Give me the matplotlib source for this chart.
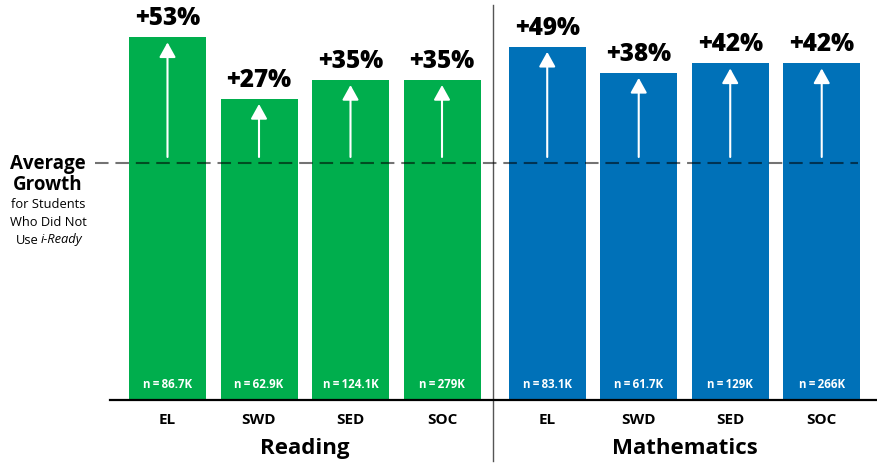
import matplotlib.pyplot as plt

plt.rcParams['font.family'] = ['Open Sans', 'DejaVu Sans']

# data
subjects = ["Reading", "Mathematics"]
groups = ["EL", "SWD", "SED", "SOC"]
reading_growth = [53, 27, 35, 35]
math_growth = [49, 38, 42, 42]
reading_n = ["86.7K", "62.9K", "124.1K", "279K"]
math_n = ["83.1K", "61.7K", "129K", "266K"]
baseline = 100  # average growth for non-users = 100

green = "#00AE4D"
blue = "#0071B8"

W, H = 877, 464
fig = plt.figure(figsize=(W / 100, H / 100), dpi=100)
base_px = 401
ax = fig.add_axes([0, (H - base_px) / H, 1, base_px / H])

px = 91.5  # pixels per x unit
x0 = 167.5
ax.set_xlim(-x0 / px, (W - x0) / px)
ymax = base_px / 237 * 100
ax.set_ylim(0, ymax)
ax.axis('off')
ypx = ymax / base_px  # data per pixel

pos_r = [0, 1, 2, 3]
pos_m = [4.15, 5.15, 6.15, 7.15]
bw = 77 / px

for pos, growth, ns, col in [(pos_r, reading_growth, reading_n, green),
                             (pos_m, math_growth, math_n, blue)]:
    vals = [baseline + g for g in growth]
    ax.bar(pos, vals, width=bw, color=col, zorder=2)
    for p, v, g, n in zip(pos, vals, growth, ns):
        ax.annotate('', xy=(p, v - 5 * ypx), xytext=(p, baseline + 6 * ypx),
                    arrowprops=dict(arrowstyle='-|>,head_length=0.45,head_width=0.25',
                                    color='white', lw=1.5, mutation_scale=20,
                                    shrinkA=0, shrinkB=0), zorder=4)
        ax.text(p, v + 7 * ypx, "+%d%%" % g, ha='center', va='bottom',
                fontsize=17.5, fontweight='heavy', color='black')
        ax.text(p, 16 * ypx, "n\u2009=\u2009" + n, ha='center', va='center',
                fontsize=8.3, fontweight='bold', color='white', zorder=5)
    for p, lab in zip(pos, groups):
        ax.text(p, -19 * ypx, lab, ha='center', va='center', fontsize=11,
                fontweight='bold', clip_on=False)

# subject labels
ax.text(sum(pos_r) / 4, -48 * ypx, subjects[0], ha='center', va='center',
        fontsize=16, fontweight='bold', clip_on=False)
ax.text(sum(pos_m) / 4, -48 * ypx, subjects[1], ha='center', va='center',
        fontsize=16, fontweight='bold', clip_on=False)

# axis line
ax.plot([(110 - x0) / px, (W - x0) / px], [0, 0], color='black', lw=1.6,
        zorder=3, clip_on=False)
# divider
xd = (493 - x0) / px
ax.plot([xd, xd], [(base_px - 462) * ypx, (base_px - 6) * ypx], color='#555555',
        lw=1, clip_on=False)
# average growth dashed line
ax.plot([(95 - x0) / px, (858 - x0) / px], [baseline, baseline], color='black',
        alpha=0.55, lw=1.5, linestyle=(0, (6.5, 3.3)), zorder=3)

# left label
xl = (48 - x0) / px
ax.text(xl, (base_px - 164) * ypx, "Average", ha='center', va='center',
        fontsize=13.5, fontweight='bold')
ax.text(xl, (base_px - 185) * ypx, "Growth", ha='center', va='center',
        fontsize=13.5, fontweight='bold')
ax.text(xl, (base_px - 205) * ypx, "for Students", ha='center', va='center',
        fontsize=9.3)
ax.text(xl, (base_px - 222) * ypx, "Who Did Not", ha='center', va='center',
        fontsize=9.3)
ax.text((39 - x0) / px, (base_px - 240) * ypx, "Use", ha='right', va='center',
        fontsize=9.3)
ax.text((41 - x0) / px, (base_px - 240) * ypx, "i-Ready", ha='left', va='center',
        fontsize=9.3, style='italic')

fig.savefig("out.png", dpi=100)
